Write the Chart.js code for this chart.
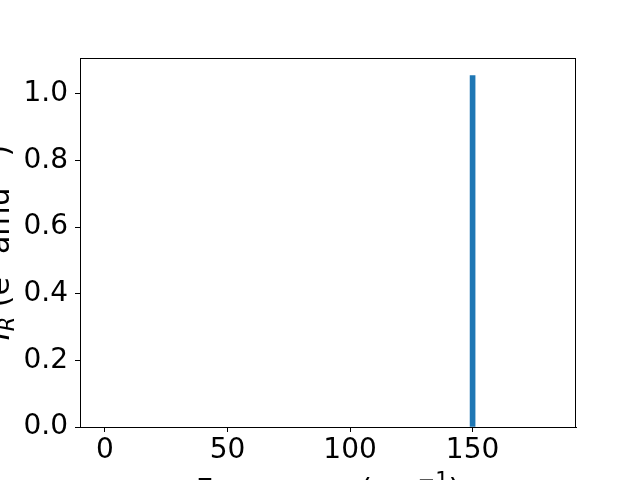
<!DOCTYPE html>
<html>
<head>
<meta charset="utf-8">
<script src="https://cdn.jsdelivr.net/npm/chart.js@4.4.0/dist/chart.umd.min.js"></script>
<style>
  html, body { margin: 0; padding: 0; background: #fff; }
  #wrap { width: 640px; height: 480px; }
</style>
</head>
<body>
<div id="wrap"><canvas id="spectrum" width="640" height="480"></canvas></div>
<script>
// data
const frequencies = [150];
const intensities = [1.055];
const xTicks = [0, 50, 100, 150];
const yTicks = [0.0, 0.2, 0.4, 0.6, 0.8, 1.0];

const FONT = 'DejaVu Sans';
const FS = 28;   // tick labels
const LFS = 30;  // axis labels

// draw a run of text pieces (sub/superscripts) centred on the origin
function drawRuns(ctx, runs) {
  let total = 0;
  runs.forEach(r => {
    ctx.font = (r.italic ? 'italic ' : '') + r.size + 'px "' + FONT + '"';
    r.w = ctx.measureText(r.t).width;
    total += r.w;
  });
  let x = -total / 2;
  runs.forEach(r => {
    ctx.font = (r.italic ? 'italic ' : '') + r.size + 'px "' + FONT + '"';
    ctx.fillText(r.t, x, r.dy || 0);
    x += r.w;
  });
}

const axisLabels = {
  id: 'axisLabels',
  afterDraw(chart) {
    const ctx = chart.ctx;
    const a = chart.chartArea;
    const small = Math.round(LFS * 0.7);
    ctx.save();
    ctx.fillStyle = '#000';
    ctx.textBaseline = 'alphabetic';
    ctx.textAlign = 'left';

    // frame
    ctx.strokeStyle = '#000';
    ctx.lineWidth = 1;
    ctx.strokeRect(a.left + 0.5, a.top + 0.5, a.right - a.left - 1, a.bottom - a.top);

    // x label (mostly below the canvas edge)
    ctx.save();
    ctx.translate((a.left + a.right) / 2, 500);
    drawRuns(ctx, [
      { t: 'Frequency (cm', size: LFS },
      { t: '\u22121', size: small, dy: -13 },
      { t: ')', size: LFS }
    ]);
    ctx.restore();

    // y label (mostly left of the canvas edge)
    ctx.save();
    ctx.translate(9, (a.top + a.bottom) / 2);
    ctx.rotate(-Math.PI / 2);
    drawRuns(ctx, [
      { t: 'I', size: LFS, italic: true },
      { t: 'R', size: small, italic: true, dy: 5 },
      { t: ' (e', size: LFS },
      { t: '2', size: small, dy: -13 },
      { t: ' amu', size: LFS },
      { t: '\u22121', size: small, dy: -13 },
      { t: ')', size: LFS }
    ]);
    ctx.restore();
    ctx.restore();
  }
};

const ctx = document.getElementById('spectrum').getContext('2d');
new Chart(ctx, {
  type: 'bar',
  data: {
    datasets: [{
      data: frequencies.map((f, i) => ({ x: f, y: intensities[i] })),
      backgroundColor: '#1f77b4',
      borderWidth: 0,
      barThickness: 5
    }]
  },
  options: {
    responsive: false,
    animation: false,
    devicePixelRatio: 1,
    layout: { padding: { left: 0, top: 58, right: 64, bottom: 0 } },
    plugins: { legend: { display: false }, tooltip: { enabled: false } },
    scales: {
      x: {
        type: 'linear',
        min: -10.2,
        max: 192.2,
        offset: false,
        afterFit: s => { s.height = 53; },
        afterBuildTicks: s => { s.ticks = xTicks.map(v => ({ value: v })); },
        grid: { offset: false, drawOnChartArea: false, drawTicks: true, tickLength: 5, tickColor: '#000', tickWidth: 1 },
        border: { display: true, color: '#000', width: 1 },
        ticks: { color: '#000', padding: 2, maxRotation: 0, font: { family: FONT, size: FS } }
      },
      y: {
        min: 0,
        max: 1.108,
        afterFit: s => { s.width = 80; },
        afterBuildTicks: s => { s.ticks = yTicks.map(v => ({ value: v })); },
        grid: { drawOnChartArea: false, drawTicks: true, tickLength: 5, tickColor: '#000', tickWidth: 1 },
        border: { display: true, color: '#000', width: 1 },
        ticks: { color: '#000', padding: 7, callback: v => Number(v).toFixed(1), font: { family: FONT, size: FS } }
      }
    }
  },
  plugins: [axisLabels]
});
</script>
</body>
</html>
